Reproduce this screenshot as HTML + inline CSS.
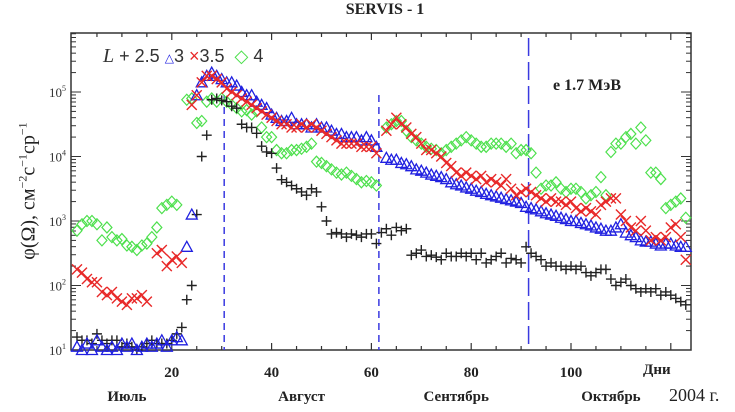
<!DOCTYPE html>
<html><head><meta charset="utf-8"><style>
html,body{margin:0;padding:0;background:#fff;width:735px;height:412px;overflow:hidden}
svg{display:block}
.serif{font-family:"Liberation Serif","DejaVu Serif",serif}
.sans{font-family:"Liberation Sans","DejaVu Sans",sans-serif}
</style></head><body>
<svg id="chart" width="735" height="412" viewBox="0 0 735 412"></svg>
<script>
// Log10 of flux, one per day
const daysB=[1,2,3,4,5,6,7,8,9,10,11,12,13,14,15,16,17,18,19,20,21,22,23,24,25,26,27,28,29,30,31,32,33,34,35,36,37,38,39,40,41,42,43,44,45,46,47,48,49,50,51,52,53,54,55,56,57,58,59,60,61,62,63,64,65,66,67,68,69,70,71,72,73,74,75,76,77,78,79,80,81,82,83,84,85,86,87,88,89,90,91,92,93,94,95,96,97,98,99,100,101,102,103,104,105,106,107,108,109,110,111,112,113,114,115,116,117,118,119,120,121,122,123];
const valsB=[1.2,1.15,1.15,1.1,1.25,1.15,1.1,1.15,1.15,1.05,1.1,1.05,1.0,1.05,1.1,1.15,1.1,1.1,1.1,1.15,1.25,1.35,1.78,2.0,3.1,4.0,4.33,4.88,4.9,4.87,4.85,4.78,4.75,4.5,4.45,4.45,4.36,4.16,4.07,4.05,3.82,3.64,3.6,3.55,3.5,3.45,3.4,3.5,3.45,3.22,3.0,2.8,2.82,2.8,2.75,2.8,2.78,2.75,2.8,2.8,2.65,2.82,2.88,2.78,2.9,2.85,2.88,2.47,2.5,2.55,2.45,2.47,2.44,2.4,2.5,2.45,2.45,2.5,2.45,2.5,2.4,2.5,2.35,2.4,2.45,2.5,2.35,2.42,2.4,2.35,2.6,2.5,2.45,2.4,2.3,2.35,2.3,2.3,2.25,2.3,2.25,2.3,2.2,2.15,2.2,2.25,2.25,2.1,2.0,2.05,2.1,2.0,1.95,1.9,1.95,1.9,1.95,1.85,1.9,1.85,1.8,1.75,1.7];
const daysT=[1,2,3,4,5,6,7,8,9,10,11,12,13,14,15,16,17,18,19,20,21,22,23,24,25,26,27,28,29,30,31,32,33,34,35,36,37,38,39,40,41,42,43,44,45,46,47,48,49,50,51,52,53,54,55,56,57,58,59,60,61,63,64,65,66,67,68,69,70,71,72,73,74,75,76,77,78,79,80,81,82,83,84,85,86,87,88,89,90,91,92,93,94,95,96,97,98,99,100,101,102,103,104,105,106,107,108,109,110,111,112,113,114,115,116,117,118,119,120,121,122,123];
const valsT=[1.05,1.0,1.1,1.0,1.15,1.05,1.0,1.05,1.0,1.1,1.05,1.1,1.0,1.05,1.1,1.05,1.1,1.15,1.05,1.15,1.2,1.15,2.6,3.1,4.95,5.15,5.25,5.3,5.25,5.2,5.15,5.15,5.1,5.0,4.95,4.95,4.85,4.8,4.75,4.65,4.6,4.55,4.55,4.6,4.5,4.5,4.5,4.45,4.5,4.45,4.45,4.4,4.35,4.35,4.3,4.3,4.3,4.25,4.3,4.25,4.15,3.98,3.95,3.95,3.9,3.88,3.85,3.8,3.78,3.75,3.72,3.7,3.68,3.65,3.6,3.57,3.55,3.52,3.5,3.47,3.45,3.42,3.4,3.38,3.36,3.34,3.32,3.3,3.28,3.22,3.2,3.18,3.15,3.12,3.1,3.08,3.05,3.03,3.0,3.0,2.97,2.95,2.93,2.9,2.88,2.85,2.85,2.9,2.95,2.82,2.78,2.75,2.7,2.68,2.68,2.65,2.62,2.65,2.65,2.62,2.6,2.6,2.55];
const daysX=[1,2,3,4,5,6,7,8,9,10,11,12,13,14,15,17,18,19,20,21,22,24,25,26,27,28,29,30,31,32,33,34,35,36,37,38,39,40,41,42,43,44,45,46,47,48,49,50,51,52,53,54,55,56,57,58,59,60,61,63,64,65,66,67,68,69,70,71,72,73,74,75,76,77,78,79,80,81,82,83,84,85,86,87,88,89,90,91,92,93,94,95,96,97,98,99,100,101,102,103,104,105,106,107,108,109,110,111,112,113,114,115,116,117,118,119,120,121,122,123];
const valsX=[2.25,2.2,2.1,2.05,2.05,1.9,1.85,1.9,1.8,1.75,1.7,1.8,1.8,1.85,1.75,2.5,2.55,2.3,2.4,2.45,2.35,4.8,4.95,5.15,5.25,5.25,5.2,5.15,5.05,5.0,4.95,4.9,4.85,4.8,4.75,4.7,4.65,4.6,4.55,4.5,4.5,4.45,4.45,4.5,4.45,4.5,4.45,4.4,4.35,4.3,4.25,4.2,4.2,4.2,4.2,4.15,4.15,4.15,4.05,4.4,4.5,4.6,4.5,4.45,4.35,4.3,4.2,4.1,4.1,4.05,4.0,3.9,3.85,3.75,3.7,3.75,3.7,3.65,3.7,3.6,3.65,3.6,3.55,3.65,3.5,3.4,3.45,3.5,3.45,3.4,3.35,3.3,3.35,3.3,3.3,3.25,3.3,3.2,3.15,3.2,3.15,3.1,3.25,3.3,3.35,3.35,3.1,3.0,2.9,2.85,3.0,2.85,2.7,2.75,2.7,2.75,2.9,2.95,2.75,2.4];
const daysD=[1,2,3,4,5,6,7,8,9,10,11,12,13,14,15,16,17,18,19,20,21,23,24,25,26,27,28,29,30,31,32,33,34,35,36,37,38,39,40,41,42,43,44,45,46,47,48,49,50,51,52,53,54,55,56,57,58,59,60,61,63,64,65,66,67,68,69,70,71,72,73,74,75,76,77,78,79,80,81,82,83,84,85,86,87,88,89,90,91,92,93,94,95,96,97,98,99,100,101,102,103,104,105,106,107,108,109,110,111,112,113,114,115,116,117,118,119,120,121,122,123];
const valsD=[2.85,2.95,3.0,3.0,2.95,2.7,2.9,2.75,2.7,2.72,2.62,2.6,2.55,2.62,2.65,2.75,2.9,3.2,3.25,3.3,3.25,4.88,4.9,4.52,4.55,4.85,4.9,4.85,4.9,4.85,4.8,4.75,4.7,4.72,4.65,4.7,4.45,4.3,4.3,4.1,4.05,4.05,4.1,4.1,4.12,4.15,4.2,3.92,3.9,3.85,3.8,3.75,3.72,3.75,3.7,3.65,3.6,3.62,3.6,3.55,4.45,4.5,4.55,4.55,4.4,4.3,4.25,4.2,4.15,4.12,4.1,4.05,4.1,4.15,4.2,4.25,4.3,4.25,4.2,4.15,4.15,4.2,4.2,4.2,4.15,4.2,4.05,4.1,4.1,4.05,3.75,3.5,3.55,3.55,3.6,3.5,3.45,3.5,3.5,3.45,3.35,3.4,3.45,3.68,3.4,4.07,4.2,4.2,4.3,4.35,4.2,4.45,4.25,3.75,3.75,3.65,3.2,3.25,3.3,3.35,3.05,2.95];
const xTickVals=[20,40,60,80,100];
const yTickExp=[1,2,3,4,5];
const monthNames=["Июль","Август","Сентябрь","Октябрь"];
const monthPos=[11,46,77,108];
const monthBounds=[30.5,61.5,91.5];

const L=71,R=691,T=33,B=350;
const X=d=>72+d*4.99;
const Y=v=>350-(v-1)*64.5;
const svg=document.getElementById('chart');
const NS='http://www.w3.org/2000/svg';
function mk(tag,attrs,parent){const e=document.createElementNS(NS,tag);for(const k in attrs)e.setAttribute(k,attrs[k]);(parent||svg).appendChild(e);return e;}

let fr=mk('rect',{x:L,y:T,width:R-L,height:B-T,fill:'none',stroke:'#333','stroke-width':1.5});



for(let d=5;d<124;d+=5){
  const major=d%20===0, len=major?7:4;
  let t=mk('line',{x1:X(d),x2:X(d),y1:B,y2:B-len,stroke:'#333','stroke-width':1.2});
  
  
  let t2=mk('line',{x1:X(d),x2:X(d),y1:T,y2:T+len,stroke:'#333','stroke-width':1.2});
  
  
}
xTickVals.forEach(v=>{
  let t=mk('text',{x:X(v),y:377,'text-anchor':'middle','font-size':15,'font-weight':'bold',class:'serif',fill:'#222'});
  t.textContent=v;
  
  
});
for(let e=1;e<=5;e++){
  for(let m=1;m<10;m++){
    const v=e+Math.log10(m); if(v>5.92)break;
    const len=m===1?10:5;
    let a=mk('line',{x1:L,x2:L+len,y1:Y(v),y2:Y(v),stroke:'#333','stroke-width':1});
    
    
    let b=mk('line',{x1:R,x2:R-len,y1:Y(v),y2:Y(v),stroke:'#333','stroke-width':1});
    
    
  }
}
yTickExp.forEach(e=>{
  let t=mk('text',{x:66,y:Y(e)+5,'text-anchor':'end','font-size':13,class:'serif',fill:'#333'});
  t.textContent='10';
  const s=mk('tspan',{dy:-6,'font-size':8},t); s.textContent=e;
  
  
});
monthBounds.forEach((d,i)=>{
  let l=mk('line',{x1:X(d),x2:X(d),y1:i===2?38:T+62,y2:B,stroke:'#3a3ae0','stroke-width':1.5,'stroke-dasharray':i===2?'18,6':'7,5'});
  
  
});
const G=mk('g',{});


function plus(x,y,c,p){return mk('path',{d:`M${x-5},${y}h10M${x},${y-5}v10`,stroke:c,'stroke-width':1.4,fill:'none'},p);}
function cross(x,y,c,p){return mk('path',{d:`M${x-5},${y-5}l10,10M${x-5},${y+5}l10,-10`,stroke:c,'stroke-width':1.4,fill:'none'},p);}
function tri(x,y,c,p){return mk('path',{d:`M${x},${y-5.5}L${x+5.5},${y+4.5}L${x-5.5},${y+4.5}Z`,stroke:c,'stroke-width':1.3,fill:'none'},p);}
function dia(x,y,c,p){return mk('path',{d:`M${x},${y-5.5}L${x+5},${y}L${x},${y+5.5}L${x-5},${y}Z`,stroke:c,'stroke-width':1.2,fill:'none'},p);}
function series(days,vals,fn,c,name){
  const g=mk('g',{},G);
  
  
  days.forEach((d,i)=>{
    const m=fn(X(d),Y(vals[i]),c,g);
    
    
  });
}
series(daysD,valsD,dia,'#4de04d','series-L4');
series(daysB,valsB,plus,'#222','series-L2.5');
series(daysT,valsT,tri,'#2020e0','series-L3');
series(daysX,valsX,cross,'#e82828','series-L3.5');

monthNames.forEach((n,i)=>{
  let t=mk('text',{x:X(monthPos[i]),y:401,'text-anchor':'middle','font-size':15,'font-weight':'bold',class:'serif',fill:'#222'});
  t.textContent=n;
  
  
});
</script>
<div class="serif" style="position:absolute;left:0;top:1px;width:770px;text-align:center;font-size:16px;font-weight:bold;color:#222">SERVIS - 1</div>
<div class="serif" style="position:absolute;left:28px;top:191px;transform:translate(-50%,-50%) rotate(-90deg);white-space:nowrap;font-size:20px;color:#222">φ(Ω), см<sup style="font-size:12px">−2</sup>с<sup style="font-size:12px">−1</sup>ср<sup style="font-size:12px">−1</sup></div>
<div class="sans" style="position:absolute;left:103px;top:45px;font-size:18px;color:#333;white-space:nowrap">
<span style="font-style:italic;font-family:'Liberation Serif',serif;font-size:20px">L</span>
<span>+ 2.5</span>
<span><span style="color:#2020e0;font-size:12px">△</span>3</span>
<span><span style="color:#e82828">×</span>3.5</span>
<span>&nbsp;<span style="color:#4de04d">◇</span> 4</span>
</div>
<div class="serif" style="position:absolute;left:553px;top:77px;font-size:16px;font-weight:bold;color:#222">e 1.7 МэВ</div>
<div class="serif" style="position:absolute;left:643px;top:362px;font-size:15px;font-weight:bold;color:#222">Дни</div>
<div class="serif" style="position:absolute;left:669px;top:385px;font-size:18px;color:#222">2004 г.</div>
</body></html>
